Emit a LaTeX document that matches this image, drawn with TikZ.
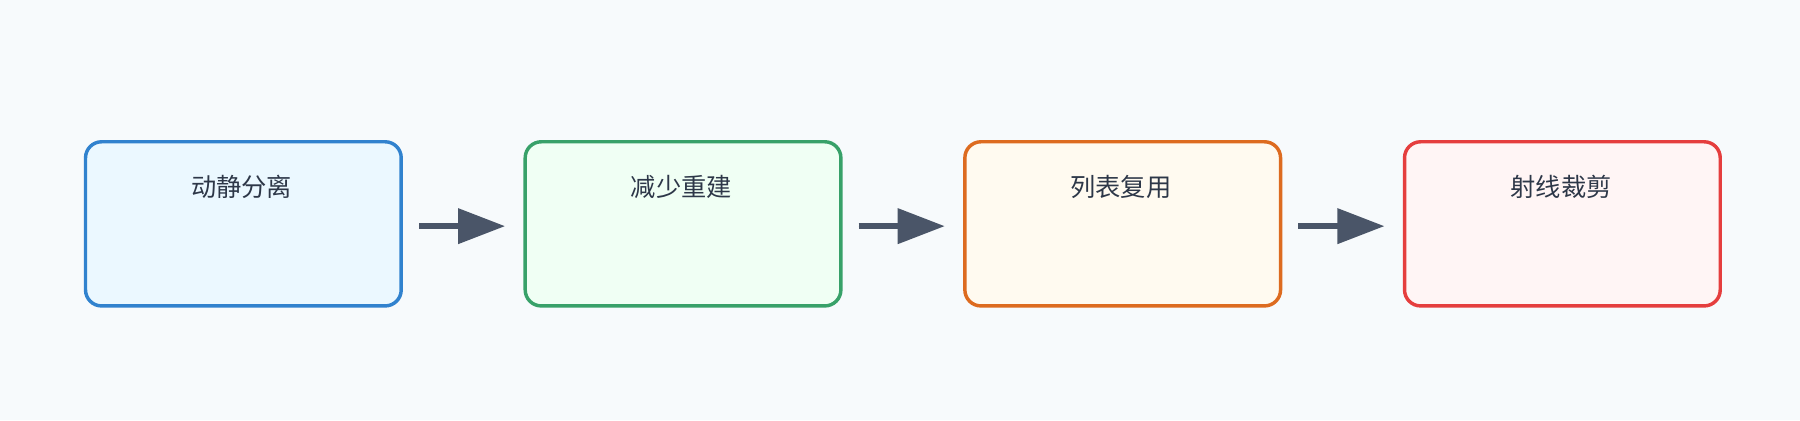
\documentclass[tikz,border=0pt]{standalone}
\usepackage{fontspec}
\newfontfamily\cjk{Noto Sans CJK SC}
\usetikzlibrary{arrows.meta}
\definecolor{bg}{HTML}{F7FAFC}
\definecolor{ar}{HTML}{4A5568}
\definecolor{tx}{HTML}{2D3748}
\definecolor{c1}{HTML}{3182CE}\definecolor{f1}{HTML}{EBF8FF}
\definecolor{c2}{HTML}{38A169}\definecolor{f2}{HTML}{F0FFF4}
\definecolor{c3}{HTML}{DD6B20}\definecolor{f3}{HTML}{FFFAF0}
\definecolor{c4}{HTML}{E53E3E}\definecolor{f4}{HTML}{FFF5F5}
\begin{document}
\begin{tikzpicture}[x=1pt,y=-1pt,
 box/.style={draw=#1,line width=3pt,rounded corners=14pt,minimum width=275pt,minimum height=143pt,inner sep=0pt,anchor=north west},
 lab/.style={font=\cjk\fontsize{22}{26}\selectfont,text=tx},
 arr/.style={draw=ar,line width=5pt,-{Triangle[length=41pt,width=30pt]},fill=ar}]
\fill[bg] (0,0) rectangle (1568,366);
\useasboundingbox (0,0) rectangle (1568,366);
\node[box=c1,fill=f1] (b1) at (73,122) {};
\node[box=c2,fill=f2] (b2) at (456,122) {};
\node[box=c3,fill=f3] (b3) at (839,122) {};
\node[box=c4,fill=f4] (b4) at (1222,122) {};
\node[lab] (t1) at (210.5,163) {动静分离};
\node[lab] (t2) at (593.5,163) {减少重建};
\node[lab] (t3) at (976.5,163) {列表复用};
\node[lab] (t4) at (1360,163) {射线裁剪};
\foreach \a/\b in {b1/b2,b2/b3,b3/b4}{
 \coordinate (s) at ([xshift=14pt,yshift=-2pt]\a.east);
 \coordinate (e) at ([xshift=-16pt,yshift=-2pt]\b.west);
 \draw[arr] (s) -- (e);
}
\end{tikzpicture}
\end{document}
